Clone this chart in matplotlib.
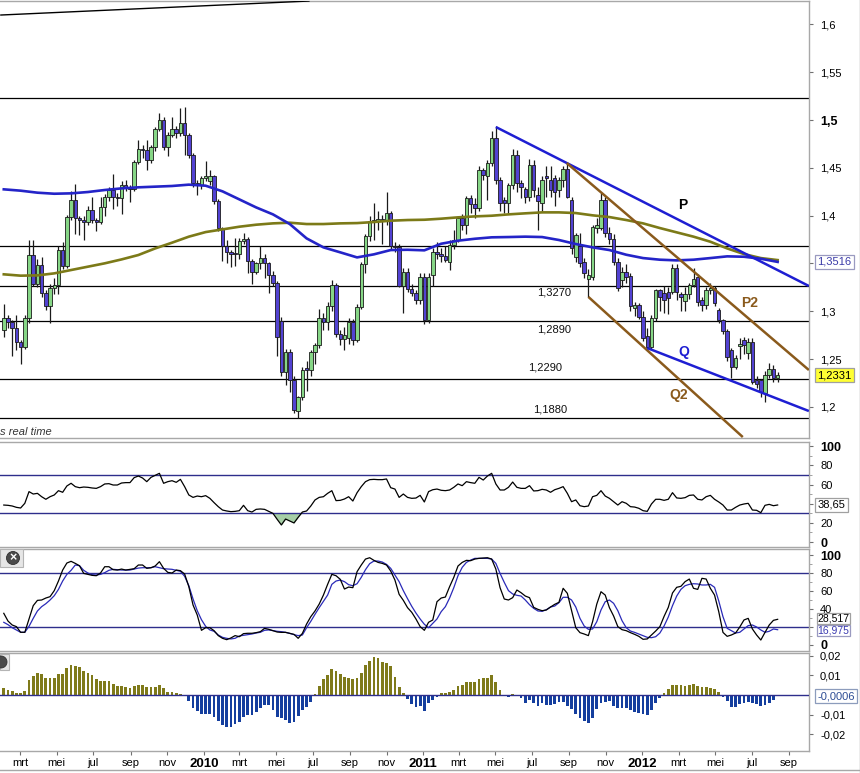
import numpy as np
import pandas as pd
import matplotlib
matplotlib.use('Agg')
import matplotlib.pyplot as plt
import matplotlib.dates as mdates
from matplotlib.patches import Rectangle, Ellipse
from matplotlib.lines import Line2D

plt.rcParams['font.family'] = ['Liberation Sans', 'DejaVu Sans']

# ---------------- data ----------------
weeks = pd.date_range('2009-02-02', periods=185, freq='7D')

opens = [
1.280,1.293,1.289,1.282,1.268,1.263,1.293,1.359,1.329,1.348,
1.319,1.305,1.324,1.327,1.364,1.347,1.399,1.416,1.397,1.395,
1.393,1.406,1.395,1.393,1.409,1.420,1.427,1.420,1.418,1.432,
1.430,1.428,1.456,1.470,1.469,1.458,1.472,1.491,1.500,1.472,
1.484,1.491,1.486,1.497,1.484,1.463,1.434,1.432,1.439,1.436,
1.441,1.415,1.387,1.368,1.362,1.361,1.360,1.373,1.376,1.353,
1.341,1.350,1.356,1.350,1.338,1.330,1.290,1.236,1.257,1.228,
1.196,1.210,1.241,1.239,1.257,1.265,1.293,1.289,1.305,1.327,
1.276,1.271,1.272,1.289,1.270,1.304,1.349,1.379,1.395,1.394,
1.396,1.394,1.403,1.368,1.367,1.326,1.341,1.323,1.319,1.312,
1.336,1.291,1.338,1.362,1.360,1.358,1.352,1.369,1.375,1.397,
1.390,1.418,1.412,1.408,1.448,1.441,1.455,1.481,1.437,1.416,
1.413,1.432,1.463,1.434,1.428,1.420,1.453,1.422,1.413,1.441,
1.437,1.439,1.427,1.437,1.449,1.416,1.357,1.368,1.352,1.334,
1.336,1.387,1.387,1.416,1.382,1.376,1.352,1.333,1.341,1.337,
1.303,1.306,1.294,1.274,1.263,1.293,1.322,1.319,1.320,1.320,
1.345,1.318,1.311,1.318,1.327,1.336,1.312,1.306,1.322,1.324,
1.301,1.291,1.279,1.259,1.242,1.264,1.270,1.256,1.268,1.228,
1.228,1.214,1.233,1.240,1.230]

highs = [
1.308,1.296,1.291,1.296,1.270,1.296,1.375,1.375,1.355,1.357,
1.322,1.328,1.335,1.368,1.372,1.401,1.426,1.433,1.400,1.400,
1.410,1.419,1.398,1.419,1.423,1.430,1.444,1.424,1.436,1.437,
1.432,1.458,1.479,1.474,1.479,1.474,1.493,1.507,1.503,1.487,
1.503,1.494,1.513,1.514,1.486,1.465,1.437,1.441,1.457,1.448,
1.443,1.417,1.388,1.375,1.364,1.377,1.377,1.382,1.378,1.355,
1.352,1.368,1.360,1.352,1.342,1.332,1.294,1.260,1.260,1.232,
1.211,1.242,1.248,1.259,1.267,1.302,1.298,1.310,1.333,1.330,
1.280,1.283,1.293,1.292,1.308,1.351,1.381,1.400,1.413,1.405,
1.401,1.425,1.405,1.372,1.370,1.345,1.345,1.328,1.322,1.340,
1.340,1.340,1.366,1.372,1.366,1.368,1.375,1.385,1.400,1.402,
1.421,1.422,1.418,1.452,1.450,1.458,1.488,1.494,1.440,1.420,
1.434,1.470,1.469,1.437,1.430,1.459,1.458,1.430,1.441,1.452,
1.452,1.442,1.440,1.452,1.456,1.420,1.382,1.382,1.356,1.344,
1.390,1.398,1.424,1.420,1.388,1.381,1.356,1.346,1.349,1.340,
1.310,1.309,1.300,1.282,1.296,1.323,1.323,1.326,1.325,1.349,
1.349,1.320,1.325,1.330,1.345,1.339,1.315,1.325,1.330,1.326,
1.303,1.292,1.281,1.262,1.254,1.272,1.273,1.272,1.272,1.232,
1.229,1.238,1.246,1.244,1.236]

lows = [
1.273,1.282,1.253,1.259,1.245,1.260,1.288,1.326,1.325,1.315,
1.301,1.288,1.318,1.318,1.344,1.345,1.395,1.381,1.380,1.374,
1.390,1.392,1.384,1.391,1.400,1.415,1.407,1.410,1.402,1.426,
1.414,1.426,1.454,1.460,1.448,1.455,1.468,1.489,1.469,1.462,
1.482,1.481,1.483,1.463,1.460,1.430,1.422,1.428,1.436,1.432,
1.412,1.384,1.353,1.350,1.346,1.347,1.355,1.370,1.340,1.329,
1.339,1.344,1.335,1.319,1.326,1.253,1.232,1.223,1.216,1.194,
1.188,1.207,1.217,1.232,1.245,1.262,1.280,1.280,1.300,1.273,
1.265,1.259,1.266,1.265,1.268,1.302,1.340,1.373,1.375,1.385,
1.370,1.390,1.365,1.362,1.325,1.298,1.320,1.316,1.308,1.308,
1.287,1.288,1.326,1.355,1.352,1.352,1.343,1.365,1.372,1.385,
1.381,1.403,1.398,1.405,1.437,1.416,1.452,1.433,1.405,1.403,
1.403,1.428,1.425,1.418,1.413,1.415,1.420,1.385,1.405,1.420,
1.420,1.410,1.420,1.430,1.418,1.360,1.352,1.346,1.335,1.315,
1.333,1.382,1.385,1.378,1.370,1.348,1.321,1.325,1.330,1.300,
1.295,1.292,1.269,1.262,1.261,1.290,1.300,1.298,1.297,1.318,
1.312,1.300,1.300,1.313,1.325,1.305,1.300,1.302,1.318,1.305,
1.288,1.276,1.248,1.230,1.240,1.250,1.255,1.250,1.224,1.220,
1.210,1.205,1.230,1.226,1.226]

closes = [
1.293,1.289,1.282,1.268,1.263,1.293,1.359,1.329,1.348,1.319,
1.305,1.324,1.327,1.364,1.347,1.399,1.416,1.397,1.395,1.393,
1.406,1.395,1.393,1.409,1.420,1.427,1.420,1.418,1.432,1.430,
1.428,1.456,1.470,1.469,1.458,1.472,1.491,1.500,1.472,1.484,
1.491,1.486,1.497,1.484,1.463,1.434,1.432,1.439,1.441,1.441,
1.415,1.387,1.368,1.362,1.360,1.360,1.373,1.376,1.353,1.341,
1.350,1.356,1.350,1.338,1.330,1.273,1.236,1.257,1.228,1.197,
1.210,1.239,1.239,1.257,1.265,1.293,1.289,1.305,1.327,1.276,
1.271,1.275,1.289,1.270,1.304,1.349,1.379,1.394,1.394,1.396,
1.394,1.403,1.368,1.367,1.326,1.341,1.323,1.319,1.312,1.336,
1.291,1.336,1.362,1.360,1.358,1.354,1.369,1.375,1.397,1.390,
1.418,1.412,1.408,1.448,1.443,1.455,1.481,1.437,1.413,1.413,
1.432,1.463,1.434,1.430,1.420,1.453,1.427,1.415,1.437,1.439,
1.427,1.425,1.437,1.449,1.420,1.366,1.380,1.350,1.340,1.338,
1.388,1.390,1.416,1.382,1.376,1.352,1.324,1.341,1.336,1.305,
1.306,1.294,1.272,1.263,1.293,1.322,1.315,1.312,1.314,1.345,
1.320,1.315,1.318,1.327,1.334,1.310,1.306,1.322,1.324,1.309,
1.291,1.279,1.252,1.242,1.251,1.266,1.265,1.268,1.226,1.224,
1.216,1.233,1.240,1.230,1.233]

# moving averages, read every 4th week
ma_step_weeks = list(range(0, 185, 4))
ma_blue = [1.4275,1.4261,1.4240,1.4229,1.4233,1.4247,1.4268,1.4285,1.4296,1.4303,
           1.4310,1.4324,1.4313,1.4254,1.4170,1.4086,1.4013,1.3912,1.3762,1.3668,
           1.3616,1.3563,1.3595,1.3640,1.3643,1.3637,1.3706,1.3738,1.3758,1.3773,
           1.3776,1.3780,1.3776,1.3745,1.3703,1.3668,1.3640,1.3591,1.3556,1.3539,
           1.3532,1.3539,1.3556,1.3574,1.3570,1.3549,1.3516]
ma_olive = [1.3386,1.3372,1.3375,1.3396,1.3431,1.3466,1.3501,1.3542,1.3588,1.3657,
            1.3717,1.3780,1.3828,1.3856,1.3884,1.3905,1.3919,1.3926,1.3912,1.3912,
            1.3919,1.3922,1.3933,1.3947,1.3954,1.3957,1.3968,1.3982,1.3992,1.3999,
            1.4013,1.4024,1.4034,1.4034,1.4027,1.4003,1.3985,1.3954,1.3919,1.3870,
            1.3825,1.3780,1.3727,1.3657,1.3598,1.3556,1.3535]

rsi = [
38.6,38.3,37.6,36.2,35.5,40.4,52.6,50.1,50.8,47.3,
44.6,47.3,49.1,53.6,51.9,58.5,61.3,57.8,56.7,57.4,
57.1,56.4,56.0,57.8,60.6,60.9,59.5,59.5,61.6,62.0,
62.0,67.2,68.9,66.8,63.0,67.5,69.6,71.7,61.3,63.0,
64.0,62.3,65.4,57.8,49.1,46.6,48.0,47.3,48.4,45.6,
41.1,36.9,33.4,32.4,31.7,32.0,32.7,38.3,32.7,31.3,
34.1,34.5,34.1,32.0,29.9,23.7,17.8,24.0,22.0,19.9,
25.8,31.3,32.4,37.6,43.9,46.6,47.3,50.8,53.6,43.2,
43.5,44.9,47.3,42.8,51.5,57.8,63.0,65.1,65.4,65.1,
65.1,65.8,56.7,55.3,46.6,50.1,46.6,45.6,45.9,48.7,
41.8,52.6,54.6,55.3,54.0,53.6,54.3,57.1,60.6,58.8,
63.0,62.0,61.3,67.5,64.7,68.9,71.7,60.6,54.3,54.3,
57.1,62.6,57.1,56.0,56.0,58.8,53.3,53.6,55.0,54.3,
51.9,54.6,56.0,57.8,50.8,42.1,43.9,37.9,36.9,37.6,
47.3,48.7,53.6,48.0,45.6,42.1,38.6,42.1,40.4,36.9,
36.5,35.2,32.7,32.0,39.7,44.6,44.6,43.5,44.6,51.5,
46.0,45.6,46.3,48.7,49.1,44.6,43.9,47.3,48.7,44.6,
41.8,38.6,33.4,33.4,36.2,38.6,39.7,40.4,33.4,33.1,
30.6,38.3,39.3,37.9,38.65]

stoch_k = [
35.2,26.6,22.2,20.4,14.1,14.1,28.9,43.7,49.6,50.0,
52.2,53.7,60.4,71.1,83.3,91.1,93.0,90.7,88.1,79.6,
78.5,77.4,77.0,80.0,87.0,87.0,83.7,83.3,84.4,83.3,
84.1,84.8,88.9,88.9,85.2,85.9,87.8,92.6,85.2,80.7,
80.0,83.3,82.6,78.9,64.8,44.4,33.3,16.3,19.2,19.2,
15.9,10.4,7.4,5.9,7.8,10.4,9.2,12.6,13.0,13.0,
13.7,14.8,18.5,17.4,15.9,14.4,14.0,14.0,12.9,11.8,
7.4,12.9,23.3,31.5,37.8,45.5,55.5,67.4,78.5,77.0,
73.0,62.2,64.4,63.7,81.5,88.9,95.5,97.0,94.1,91.8,
90.7,88.9,82.2,72.2,56.3,49.6,41.5,36.3,28.9,20.4,
16.3,25.2,27.8,48.1,52.2,53.3,64.8,75.2,87.8,91.8,
94.1,93.7,95.5,96.3,96.7,97.0,95.5,84.4,63.7,51.1,
50.0,52.6,61.1,58.1,54.4,52.6,41.8,39.6,38.1,38.9,
42.2,45.2,47.4,63.0,57.4,38.5,19.2,13.7,12.2,10.4,
25.9,45.5,59.2,55.5,41.5,32.2,20.4,17.0,15.9,13.7,
11.8,9.6,6.3,6.7,11.1,15.5,20.4,31.8,41.8,57.8,
64.1,65.2,70.4,73.3,63.0,61.8,74.1,73.3,63.0,55.5,
37.0,14.0,9.6,11.1,13.3,20.0,27.8,29.6,17.8,11.1,
5.5,14.0,22.2,27.4,28.517]

stoch_d = [
25.2,22.6,19.2,16.7,14.1,14.1,20.7,29.6,37.8,42.6,
45.9,50.0,54.8,61.8,71.1,78.5,83.0,88.9,88.1,83.0,
80.0,78.1,77.8,78.5,80.4,83.0,84.1,83.7,83.3,83.3,
83.3,84.4,85.5,85.9,85.9,85.9,87.0,85.9,84.8,84.4,
84.1,83.0,81.9,76.3,65.9,51.1,38.1,28.1,20.7,16.7,
15.2,11.1,8.5,7.4,6.7,7.4,10.0,10.7,11.5,12.2,
13.3,14.1,16.3,16.7,15.9,15.2,14.8,14.1,12.9,11.5,
10.4,11.1,19.2,26.3,34.1,41.5,48.5,55.5,67.4,71.1,
72.2,70.4,67.0,65.9,68.1,75.2,83.7,90.4,93.3,93.3,
92.2,89.6,85.2,77.8,70.4,60.4,51.5,43.0,35.5,28.9,
23.0,19.2,24.1,28.9,37.0,42.6,52.2,63.7,77.0,86.3,
91.8,94.4,96.3,96.3,96.3,96.3,95.5,90.7,79.6,69.6,
60.4,56.7,55.2,54.4,50.0,44.8,40.7,37.8,37.4,39.2,
42.2,43.3,47.0,53.0,53.0,50.0,42.2,29.6,21.1,17.4,
17.8,25.9,38.9,48.1,50.0,46.3,38.1,27.0,19.2,15.5,
14.0,12.2,10.4,8.5,8.1,9.2,13.3,21.1,31.1,43.7,
54.4,61.8,65.9,67.4,68.1,67.8,66.7,66.7,67.4,64.1,
48.9,31.5,18.5,15.9,13.3,14.1,17.8,21.5,22.2,20.0,
16.7,14.1,15.2,17.8,16.975]

macd_hist = [
0.00338,0.00254,0.0022,0.00118,0.00085,0.0022,0.0076,0.00964,0.01134,0.01066,
0.00846,0.00846,0.00846,0.01066,0.01066,0.01354,0.01523,0.01489,0.01438,0.01235,
0.011,0.01015,0.00795,0.00728,0.00728,0.00711,0.00558,0.00457,0.00457,0.00423,
0.00338,0.00457,0.00508,0.00508,0.00423,0.00423,0.00423,0.00508,0.00338,0.00169,
0.00169,0.00085,0.00034,-0.0005,-0.00288,-0.00677,-0.00812,-0.00981,-0.00981,-0.00981,
-0.011,-0.0132,-0.01523,-0.01607,-0.01607,-0.01472,-0.01354,-0.011,-0.01015,-0.01015,
-0.00846,-0.00677,-0.00508,-0.00508,-0.00761,-0.011,-0.01184,-0.01269,-0.01404,-0.01354,
-0.01066,-0.00761,-0.00592,-0.00338,0.00034,0.00457,0.00795,0.01015,0.01303,0.01235,
0.01066,0.00897,0.00846,0.00795,0.00846,0.01134,0.01523,0.01743,0.01912,0.01861,
0.01692,0.01641,0.01472,0.00897,0.00389,0.00118,-0.0022,-0.00457,-0.00626,-0.00558,
-0.00795,-0.00423,-0.00254,-0.00085,0.00085,0.00118,0.00169,0.00254,0.00457,0.00508,
0.00643,0.00677,0.00677,0.00795,0.00846,0.00846,0.01015,0.00677,0.00254,0.0002,
-0.00085,0.00051,-0.00051,-0.00135,-0.00389,-0.00254,-0.00423,-0.00558,-0.00423,-0.00508,
-0.00508,-0.00457,-0.00372,-0.00338,-0.00558,-0.00728,-0.00981,-0.01151,-0.0132,-0.01438,
-0.01184,-0.00728,-0.00423,-0.00338,-0.00288,-0.00558,-0.00677,-0.00677,-0.00677,-0.00761,
-0.00846,-0.00931,-0.00964,-0.01015,-0.00761,-0.00423,-0.00169,0.00118,0.00288,0.00508,
0.00508,0.00508,0.00457,0.00508,0.00541,0.00474,0.00389,0.00389,0.00338,0.00288,
0.00169,-0.00085,-0.00288,-0.00592,-0.00592,-0.00457,-0.00423,-0.00338,-0.00423,-0.00457,
-0.00558,-0.00508,-0.00423,-0.00254,-0.0006]

# horizontal support / resistance levels
levels = [1.523, 1.368, 1.3265, 1.2895, 1.229, 1.188]
level_labels = ['1,3270', '1,2890', '1,2290', '1,1880']

# trend lines: start date, start price, end date, end price
tl_names = ['top', 'P', 'P2', 'Q2', 'Q']
tl_start_dates = ['2009-01-27', '2011-05-02', '2011-08-28', '2011-10-03', '2012-01-09']
tl_start_prices = [1.6098, 1.4927, 1.4550, 1.3150, 1.2615]
tl_end_dates = ['2010-06-26', '2012-10-04', '2012-10-04', '2012-06-16', '2012-10-04']
tl_end_prices = [1.6245, 1.3264, 1.2385, 1.1684, 1.1956]

# tick marks; labels hidden under the value boxes are left empty
price_ticks = [1.2, 1.25, 1.3, 1.35, 1.4, 1.45, 1.5, 1.55, 1.6]
price_tick_labels = ['1,2', '1,25', '1,3', '', '1,4', '1,45', '1,5', '1,55', '1,6']
osc_ticks = [0, 20, 40, 60, 80, 100]
rsi_tick_labels = ['0', '20', '', '60', '80', '100']
stoch_tick_labels = ['0', '', '40', '60', '80', '100']
macd_ticks = [-0.02, -0.01, 0.01, 0.02]
macd_tick_labels = ['-0,02', '-0,01', '0,01', '0,02']
month_names = {3: 'mrt', 5: 'mei', 7: 'jul', 9: 'sep', 11: 'nov'}

last_price_label = '1,2331'
ma_label = '1,3516'
rsi_label = '38,65'
k_label = '28,517'
d_label = '16,975'
macd_label = '-0,0006'

# ---------------- figure ----------------
W, H = 860, 773
fig = plt.figure(figsize=(W / 100, H / 100), dpi=100)
fig.patch.set_facecolor('white')


def px_rect(left, top, right, bottom):
    return [left / W, 1 - bottom / H, (right - left) / W, (bottom - top) / H]


ax_p = fig.add_axes(px_rect(0, 1, 809, 438))
ax_r = fig.add_axes(px_rect(0, 442, 809, 547))
ax_s = fig.add_axes(px_rect(0, 549, 809, 651))
ax_m = fig.add_axes(px_rect(0, 653, 809, 751))
axes = [ax_p, ax_r, ax_s, ax_m]

xn = mdates.date2num(weeks.to_pydatetime())
x_left = xn[0] - 6.3
x_right = xn[0] + 1340.2
GRAY = '#a8a8a8'

for ax in axes:
    ax.set_xlim(x_left, x_right)
    ax.set_facecolor('white')
    for side in ['top', 'bottom', 'right']:
        ax.spines[side].set_color(GRAY)
        ax.spines[side].set_linewidth(1.0)
    ax.spines['left'].set_visible(False)
    ax.yaxis.tick_right()
    ax.tick_params(axis='y', which='major', direction='out', length=3, width=0.8,
                   color='#707070', labelsize=8, pad=5, labelcolor='black')
    ax.tick_params(axis='y', which='minor', direction='out', length=2, width=0.6,
                   color='#909090')
    ax.tick_params(axis='x', which='both', bottom=False, labelbottom=False,
                   top=False)

# ---------- price panel ----------
o = np.array(opens); h = np.array(highs); l = np.array(lows); c = np.array(closes)
up = c >= o
ax_p.vlines(xn, l, h, color='#1a1a1a', lw=0.9, zorder=3)
body_bottom = np.minimum(o, c)
body_h = np.maximum(np.abs(c - o), 0.0008)
ax_p.bar(xn, body_h, bottom=body_bottom, width=5.8,
         color=np.where(up, '#86d686', '#5242d2'),
         edgecolor='#1a1a1a', linewidth=0.6, zorder=4)

ma_x = xn[ma_step_weeks]
ax_p.plot(ma_x, ma_olive, color='#7c7a18', lw=1.9, zorder=5)
ax_p.plot(ma_x, ma_blue, color='#2424c8', lw=1.9, zorder=5)

for lv in levels:
    ax_p.axhline(lv, color='black', lw=0.9, zorder=2)

tl_colors = {'top': 'black', 'P': '#1e1ed2', 'P2': '#8a5a1c', 'Q2': '#8a5a1c', 'Q': '#1e1ed2'}
tl_widths = {'top': 1.0, 'P': 1.8, 'P2': 1.8, 'Q2': 1.8, 'Q': 1.8}
for name, sd, sp, ed, ep in zip(tl_names, tl_start_dates, tl_start_prices,
                                tl_end_dates, tl_end_prices):
    xs = mdates.date2num([pd.Timestamp(sd).to_pydatetime(), pd.Timestamp(ed).to_pydatetime()])
    ax_p.plot(xs, [sp, ep], color=tl_colors[name], lw=tl_widths[name], zorder=6,
              solid_capstyle='butt')

ax_p.set_ylim(1.1674, 1.6245)
ax_p.set_yticks(price_ticks)
ax_p.set_yticklabels(price_tick_labels)
for t in ax_p.get_yticklabels():
    if t.get_text() == '1,5':
        t.set_fontweight('bold')
        t.set_fontsize(9)

# level labels and line names (axes fraction)
lvl_pos = [(0.685, 0.332), (0.685, 0.249), (0.674, 0.162), (0.680, 0.066)]
for txt, (fx, fy) in zip(level_labels, lvl_pos):
    ax_p.text(fx, fy, txt, transform=ax_p.transAxes, ha='center', va='center',
              fontsize=8, color='#111111', zorder=7)
name_pos = {'P': (0.844, 0.533, 'black'), 'P2': (0.927, 0.309, '#8a5a1c'),
            'Q': (0.845, 0.197, '#1e1ed2'), 'Q2': (0.839, 0.098, '#8a5a1c')}
for name, (fx, fy, col) in name_pos.items():
    ax_p.text(fx, fy, name, transform=ax_p.transAxes, ha='center', va='center',
              fontsize=10, fontweight='bold', color=col, zorder=7)
ax_p.text(0.0, 0.014, 's real time', transform=ax_p.transAxes, ha='left', va='center',
          fontsize=8, style='italic', color='#333333', zorder=7)


def value_box(ax, y, text, tcolor, fc, ec, z=10, size=8, pad=0.2):
    ax.text(1.0105, y, text, transform=ax.get_yaxis_transform(), ha='left',
            va='center', fontsize=size, color=tcolor, zorder=z, clip_on=False,
            bbox=dict(boxstyle='square,pad=%.2f' % pad, fc=fc, ec=ec, lw=0.9))


value_box(ax_p, 1.3516, ma_label, '#3a3aa8', 'white', '#9a9ac0')
value_box(ax_p, 1.2331, last_price_label, 'black', '#ffff33', '#a0a0a0')

# ---------- RSI panel ----------
rsi_a = np.array(rsi)
ax_r.fill_between(xn, rsi_a, 30, where=rsi_a < 30, interpolate=True,
                  color='#a6cfa6', zorder=2, lw=0)
ax_r.axhline(70, color='#2e2e8c', lw=1.0, zorder=3)
ax_r.axhline(30, color='#2e2e8c', lw=1.0, zorder=3)
ax_r.plot(xn, rsi_a, color='black', lw=0.9, zorder=4)
ax_r.set_ylim(-5.2, 104.4)
ax_r.set_yticks(osc_ticks)
ax_r.set_yticklabels(rsi_tick_labels)
ax_r.set_yticks([10, 30, 50, 70, 90], minor=True)
for t in ax_r.get_yticklabels():
    if t.get_text() in ('0', '100'):
        t.set_fontweight('bold'); t.set_fontsize(9)
value_box(ax_r, rsi[-1], rsi_label, 'black', 'white', '#a0a0a0')

# ---------- Stochastic panel ----------
ax_s.axhline(80, color='#2e2e8c', lw=1.0, zorder=2)
ax_s.axhline(20, color='#2e2e8c', lw=1.0, zorder=2)
ax_s.plot(xn, stoch_d, color='#2a2ab8', lw=0.9, zorder=3)
ax_s.plot(xn, stoch_k, color='black', lw=0.9, zorder=4)
ax_s.set_ylim(-6.7, 106.7)
ax_s.set_yticks(osc_ticks)
ax_s.set_yticklabels(stoch_tick_labels)
ax_s.set_yticks([10, 30, 50, 70, 90], minor=True)
for t in ax_s.get_yticklabels():
    if t.get_text() in ('0', '100'):
        t.set_fontweight('bold'); t.set_fontsize(9)
value_box(ax_s, stoch_d[-1] - 0.8, d_label, '#3a3ab0', 'white', '#9a9ac0', z=10,
          size=7.5, pad=0.08)
value_box(ax_s, stoch_k[-1] + 0.8, k_label, 'black', 'white', '#a0a0a0', z=11,
          size=7.5, pad=0.08)

# ---------- MACD panel ----------
m = np.array(macd_hist)
ax_m.bar(xn, m, width=4.6, color=np.where(m >= 0, '#7f7a1a', '#143e9e'),
         linewidth=0, zorder=3)
ax_m.axhline(0, color='#2e2e8c', lw=1.0, zorder=4)
ax_m.set_ylim(-0.02843, 0.02132)
ax_m.set_yticks(macd_ticks)
ax_m.set_yticklabels(macd_tick_labels)
value_box(ax_m, macd_hist[-1], macd_label, '#2c4c94', 'white', '#8c9cbc')

tick_dates = pd.date_range('2009-03-01', '2012-09-01', freq='2MS')
tick_labels = [str(d.year) if d.month == 1 else month_names[d.month] for d in tick_dates]
ax_m.set_xticks(mdates.date2num(tick_dates.to_pydatetime()))
ax_m.set_xticklabels(tick_labels)
ax_m.tick_params(axis='x', which='major', bottom=True, labelbottom=True, direction='out',
                 length=3, width=0.8, color='#707070', labelsize=8, pad=2)
for t in ax_m.get_xticklabels():
    if t.get_text().isdigit():
        t.set_fontweight('bold'); t.set_fontsize(9.5)

# ---------- window decorations ----------
fig.add_artist(Line2D([859.5 / W, 859.5 / W], [0, 1], transform=fig.transFigure,
                      color=GRAY, lw=1.0))
fig.add_artist(Line2D([0, 859.5 / W], [1 - 770 / H, 1 - 770 / H], transform=fig.transFigure,
                      color=GRAY, lw=1.0))
# close icons
fig.add_artist(Rectangle((0, 1 - 567 / H), 23 / W, 18 / H, transform=fig.transFigure,
                         fc='#e6e6e6', ec='#b4b4b4', lw=0.8, zorder=20))
fig.add_artist(Ellipse((13 / W, 1 - 558 / H), 13 / W, 13 / H, transform=fig.transFigure,
                       fc='#4a4a4a', ec='#303030', lw=0.6, zorder=21))
fig.text(13 / W, 1 - 558.5 / H, '×', ha='center', va='center', color='white',
         fontsize=9, fontweight='bold', zorder=22)
fig.add_artist(Rectangle((0, 1 - 670 / H), 9 / W, 16 / H, transform=fig.transFigure,
                         fc='#e6e6e6', ec='#b4b4b4', lw=0.8, zorder=20))
fig.add_artist(Ellipse((1 / W, 1 - 662 / H), 12 / W, 12 / H, transform=fig.transFigure,
                       fc='#4a4a4a', ec='#303030', lw=0.6, zorder=21))

fig.savefig('out.png', dpi=100, facecolor='white')
